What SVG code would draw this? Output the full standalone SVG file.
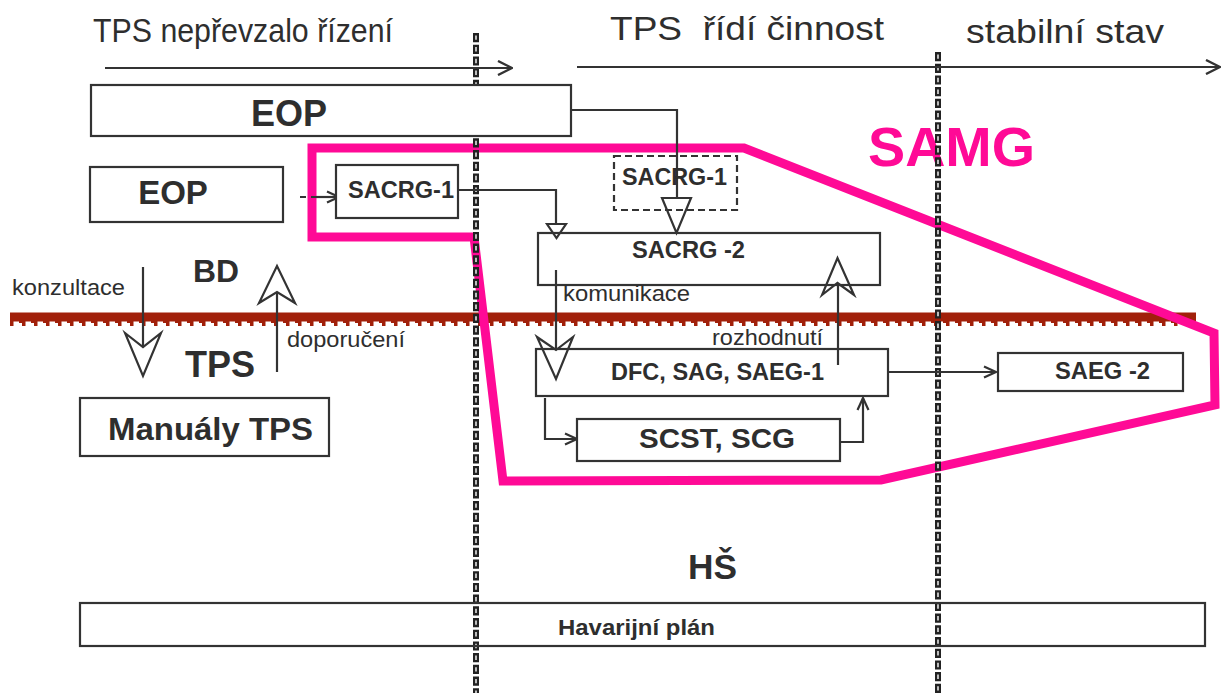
<svg xmlns="http://www.w3.org/2000/svg" width="1224" height="693" viewBox="0 0 1224 693">
<style>
.t{font-family:"Liberation Sans",Arial,sans-serif;fill:#2e2e2e}
.b{font-weight:bold}
.box{fill:#fff;stroke:#333;stroke-width:2.2}
.dbox{fill:none;stroke:#333;stroke-width:2.2;stroke-dasharray:7 4}
.ln{fill:none;stroke:#333;stroke-width:2.2}
.hd{fill:#fff;stroke:#333;stroke-width:2.2;stroke-linejoin:miter}
.sepo{stroke:#222;stroke-width:6;stroke-dasharray:9.2 2.5}
.sepi{stroke:#fff;stroke-width:1.4;stroke-dasharray:4.4 7.3;stroke-dashoffset:-2.4}
.wv{fill:none;stroke:#a1200a}
</style>
<defs>
<marker id="chev" viewBox="0 0 16 16" refX="15" refY="8" markerWidth="16" markerHeight="16" markerUnits="userSpaceOnUse" orient="auto">
<path d="M1,1 L15,8 L1,15" fill="none" stroke="#333" stroke-width="2.4"/>
</marker>
<marker id="chs" viewBox="0 0 14 14" refX="13" refY="7" markerWidth="14" markerHeight="14" markerUnits="userSpaceOnUse" orient="auto">
<path d="M1,1.5 L13,7 L1,12.5" fill="none" stroke="#333" stroke-width="2.2"/>
</marker>
</defs>

<!-- brown boundary -->
<g id="boundary">
<line x1="10" y1="317" x2="1196" y2="317" class="wv" stroke-width="9"/>
<line x1="10" y1="323" x2="1196" y2="323" class="wv" stroke-width="6" stroke-dasharray="3.5 8.5"/>
<line x1="19" y1="321.5" x2="1196" y2="321.5" class="wv" stroke-width="3" stroke-dasharray="3 9"/>
</g>

<!-- phase titles -->
<g id="titles">
<text class="t" x="93" y="42" font-size="34" textLength="300" lengthAdjust="spacingAndGlyphs">TPS nepřevzalo řízení</text>
<text class="t" x="610" y="40" font-size="34" textLength="274" lengthAdjust="spacingAndGlyphs" xml:space="preserve">TPS  řídí činnost</text>
<text class="t" x="966" y="43" font-size="34" textLength="198" lengthAdjust="spacingAndGlyphs">stabilní stav</text>
</g>

<!-- SAMG region -->
<g id="samg">
<polygon points="312,148 744,148 1214,333 1215,405 881,480 503,481 474,237 312,237" fill="none" stroke="#ff0a96" stroke-width="9" stroke-linejoin="miter"/>
<text class="t b" x="868" y="166" font-size="56" style="fill:#ff0a96" textLength="167" lengthAdjust="spacingAndGlyphs">SAMG</text>
</g>

<!-- separators -->
<g id="separators">
<line x1="476" y1="33" x2="476" y2="693" class="sepo"/>
<line x1="476" y1="33" x2="476" y2="693" class="sepi"/>
<line x1="938" y1="52" x2="938" y2="693" class="sepo"/>
<line x1="938" y1="52" x2="938" y2="693" class="sepi"/>
</g>

<!-- connectors -->
<g id="connectors">
<line x1="105" y1="68" x2="512" y2="68" class="ln" marker-end="url(#chev)"/>
<line x1="577" y1="67" x2="1220" y2="67" class="ln" marker-end="url(#chev)"/>
<polyline points="571,110 677,110 677,200" class="ln"/>
<polygon points="662,198 691,198 676.5,233" class="hd"/>
<line x1="300" y1="197" x2="338" y2="197" class="ln" stroke-dasharray="6 5" />
<line x1="316" y1="197" x2="339" y2="197" class="ln" marker-end="url(#chs)"/>
<polyline points="458,190 556,190 556,224" class="ln"/>
<polygon points="547,224 566,224 556.5,238" class="hd"/>
<line x1="556" y1="270" x2="556" y2="352" class="ln"/>
<polygon points="537,337 556,350 573,337 556,379" class="hd"/>
<line x1="838" y1="365" x2="838" y2="285" class="ln"/>
<polygon points="822,295 837.5,283 854,295 837.5,258" class="hd"/>
<line x1="888" y1="372" x2="996" y2="372" class="ln" marker-end="url(#chs)"/>
<polyline points="545,398 545,439 577,439" class="ln" marker-end="url(#chs)"/>
<polyline points="840,442 863,442 863,398" class="ln" marker-end="url(#chs)"/>
<line x1="143" y1="267" x2="143" y2="350" class="ln"/>
<polygon points="125,333 143,347 161,333 143,376" class="hd"/>
<line x1="277" y1="372" x2="277" y2="292" class="ln"/>
<polygon points="259,303 277,292 295,303 277,266" class="hd"/>
</g>

<!-- nodes -->
<g id="eop1">
<rect x="91" y="85" width="480" height="51" class="box"/>
<text class="t b" x="289" y="126" font-size="36" text-anchor="middle">EOP</text>
</g>
<g id="eop2">
<rect x="90" y="167" width="193" height="55" class="box"/>
<text class="t b" x="173" y="204" font-size="33" text-anchor="middle">EOP</text>
</g>
<g id="sacrg1-left">
<rect x="336" y="165" width="122" height="53" class="box"/>
<text class="t b" x="348" y="198" font-size="23" textLength="106" lengthAdjust="spacingAndGlyphs">SACRG-1</text>
</g>
<g id="sacrg1-dashed">
<rect x="614" y="156" width="123" height="54" class="dbox"/>
<text class="t b" x="622" y="185" font-size="23" textLength="105" lengthAdjust="spacingAndGlyphs">SACRG-1</text>
</g>
<g id="sacrg2">
<rect x="538" y="233" width="342" height="52" class="box" style="fill:none"/>
<text class="t b" x="632" y="258" font-size="23" textLength="113" lengthAdjust="spacingAndGlyphs">SACRG -2</text>
</g>
<g id="dfc">
<rect x="536" y="349" width="352" height="47" class="box" style="fill:none"/>
<text class="t b" x="611" y="380" font-size="23" textLength="213" lengthAdjust="spacingAndGlyphs">DFC, SAG, SAEG-1</text>
</g>
<g id="scst">
<rect x="577" y="419" width="263" height="42" class="box"/>
<text class="t b" x="639" y="448" font-size="28" textLength="156" lengthAdjust="spacingAndGlyphs">SCST, SCG</text>
</g>
<g id="saeg2">
<rect x="998" y="353" width="185" height="38" class="box"/>
<text class="t b" x="1055" y="379" font-size="23" textLength="95" lengthAdjust="spacingAndGlyphs">SAEG -2</text>
</g>
<g id="manualy">
<rect x="80" y="398" width="249" height="58" class="box"/>
<text class="t b" x="108" y="440" font-size="31" textLength="205" lengthAdjust="spacingAndGlyphs">Manuály TPS</text>
</g>
<g id="havarijni">
<rect x="80" y="603" width="1125" height="43" class="box" style="fill:none"/>
<text class="t b" x="558" y="635" font-size="22" textLength="157" lengthAdjust="spacingAndGlyphs">Havarijní plán</text>
</g>

<!-- labels -->
<g id="labels">
<text class="t b" x="193" y="282" font-size="32" textLength="46" lengthAdjust="spacingAndGlyphs">BD</text>
<text class="t b" x="185" y="377" font-size="36" textLength="70" lengthAdjust="spacingAndGlyphs">TPS</text>
<text class="t" x="12" y="295" font-size="22" textLength="113" lengthAdjust="spacingAndGlyphs">konzultace</text>
<text class="t" x="287" y="347" font-size="22" textLength="118" lengthAdjust="spacingAndGlyphs">doporučení</text>
<text class="t" x="563" y="301" font-size="22" textLength="127" lengthAdjust="spacingAndGlyphs">komunikace</text>
<text class="t" x="712" y="345" font-size="22" textLength="111" lengthAdjust="spacingAndGlyphs">rozhodnutí</text>
<text class="t b" x="688" y="579" font-size="35" textLength="49" lengthAdjust="spacingAndGlyphs">HŠ</text>
</g>
</svg>
